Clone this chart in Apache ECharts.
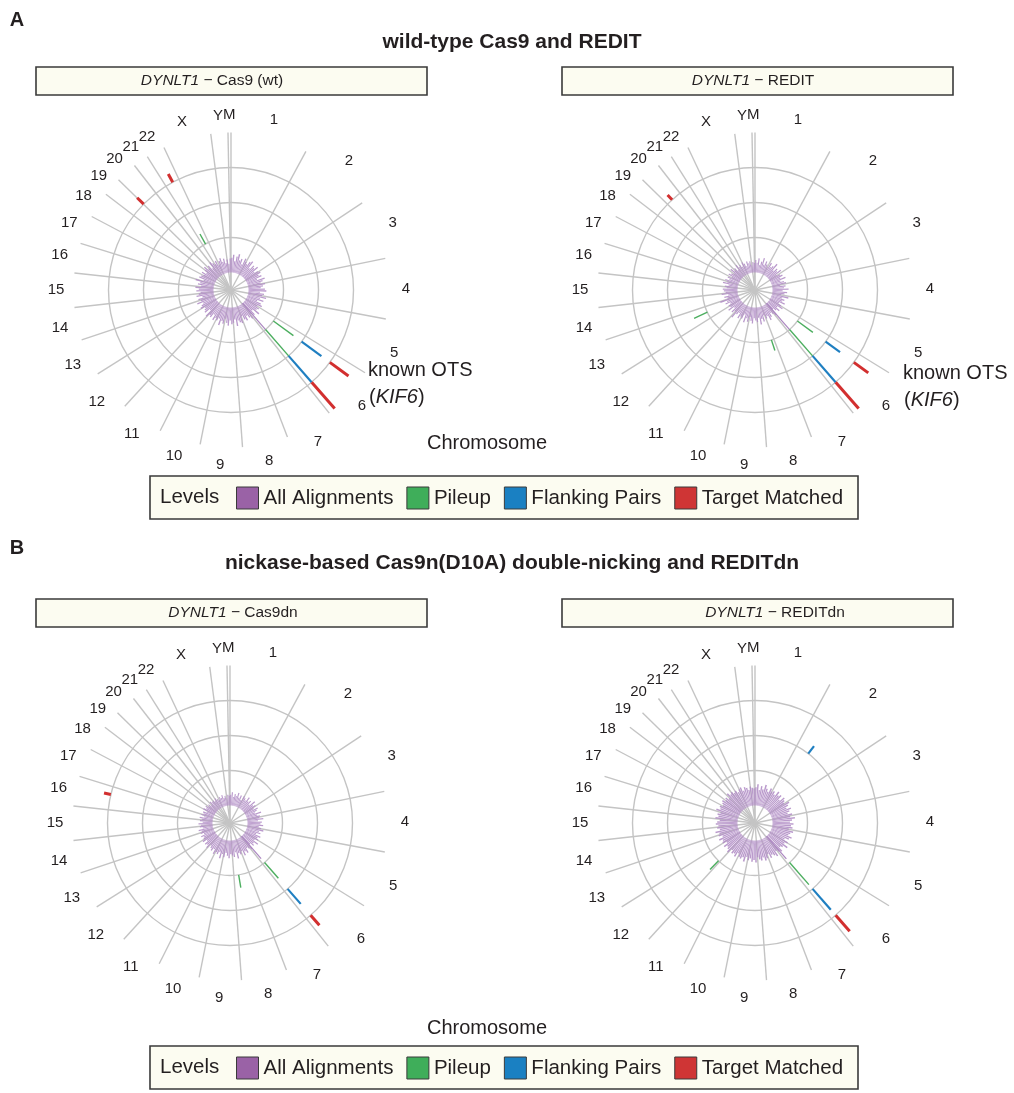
<!DOCTYPE html>
<html>
<head>
<meta charset="utf-8">
<script src="https://cdn.jsdelivr.net/npm/echarts/dist/echarts.min.js"></script>
<style>
  html, body { margin: 0; padding: 0; background: #ffffff; }
  #chart { width: 1014px; height: 1093px; }
</style>
</head>
<body>
<div id="chart"></div>
<script>
// ---- genome layout (Mb along the circle, clockwise from the top) ----
const chromNames = ['1','2','3','4','5','6','7','8','9','10','11','12','13','14','15','16','17','18','19','20','21','22','X','Y','M'];
const chromLengths = [243.6, 240.2, 188.7, 190.4, 181.0, 169.0, 151.0, 144.1, 133.0, 132.1, 134.7, 132.1,
                      117.5, 103.8, 108.1, 94.4, 90.9, 82.3, 60.0, 66.9, 48.9, 59.2, 152.7, 54.0, 9.4];

const levelNames = ['All Alignments', 'Pileup', 'Flanking Pairs', 'Target Matched'];
const geneName = 'DYNLT1';
const panelNames = ['Cas9 (wt)', 'REDIT', 'Cas9dn', 'REDITdn'];
const headings = ['wild-type Cas9 and REDIT', 'nickase-based Cas9n(D10A) double-nicking and REDITdn'];
const axisTitle = 'Chromosome';
const otsNote = ['known OTS', 'KIF6'];

// ---- all-alignment density, equal genome bins (fraction of the inner ring) ----
const alignCas9wt = [
  0.42,0.51,0.33,0.47,0.55,0.38,0.44,0.29,0.49,0.41,
  0.36,0.47,0.52,0.31,0.45,0.40,0.50,0.34,0.43,0.48,
  0.39,0.46,0.30,0.52,0.44,0.37,0.49,0.42,0.35,0.47,
  0.51,0.33,0.45,0.40,0.53,0.36,0.48,0.31,0.44,0.50,
  0.38,0.46,0.42,0.55,0.34,0.47,0.40,0.52,0.45,0.36,
  0.49,0.43,0.31,0.50,0.46,0.39,0.54,0.35,0.44,0.48,
  0.37,0.52,0.45,0.33,0.49,0.42,0.56,0.38,0.46,0.41,
  0.50,0.35,0.47,0.43,0.53,0.32,0.48,0.44,0.39,0.51,
  0.45,0.38,0.54,0.41,0.47,0.34,0.50,0.43,0.37,0.49,
  0.42,0.52,0.36,0.46,0.40,0.55,0.33,0.48,0.44,0.39,
  0.47,0.35,0.43,0.50,0.38,0.45,0.31,0.49,0.42,0.36,
  0.44,0.30,0.40,0.46,0.34,0.42,0.28,0.38,0.25,0.40
];
const alignREDIT = [
  0.36,0.28,0.41,0.22,0.33,0.45,0.27,0.38,0.31,0.24,
  0.40,0.29,0.35,0.47,0.26,0.37,0.32,0.43,0.25,0.34,
  0.39,0.30,0.44,0.27,0.36,0.41,0.23,0.38,0.33,0.46,
  0.29,0.42,0.35,0.26,0.48,0.31,0.39,0.34,0.44,0.28,
  0.37,0.45,0.30,0.41,0.33,0.25,0.43,0.36,0.29,0.40,
  0.47,0.32,0.38,0.27,0.44,0.35,0.50,0.30,0.42,0.37,
  0.31,0.46,0.39,0.28,0.43,0.34,0.48,0.26,0.40,0.36,
  0.44,0.29,0.37,0.52,0.33,0.41,0.27,0.45,0.35,0.38,
  0.30,0.43,0.36,0.55,0.32,0.40,0.28,0.46,0.34,0.39,
  0.42,0.31,0.37,0.27,0.44,0.33,0.40,0.29,0.36,0.25,
  0.38,0.32,0.27,0.41,0.30,0.35,0.24,0.39,0.29,0.34,
  0.26,0.37,0.31,0.22,0.35,0.28,0.33,0.21,0.30,0.27
];
const alignCas9dn = [
  0.31,0.38,0.25,0.34,0.29,0.40,0.27,0.35,0.22,0.37,
  0.33,0.28,0.41,0.30,0.36,0.26,0.43,0.32,0.38,0.29,
  0.40,0.34,0.27,0.44,0.31,0.38,0.35,0.46,0.30,0.41,
  0.37,0.45,0.33,0.40,0.48,0.36,0.42,0.31,0.46,0.39,
  0.44,0.35,0.50,0.38,0.43,0.33,0.47,0.41,0.36,0.49,
  0.42,0.52,0.37,0.45,0.40,0.54,0.35,0.48,0.43,0.39,
  0.51,0.44,0.36,0.49,0.41,0.55,0.38,0.46,0.42,0.50,
  0.37,0.45,0.40,0.34,0.47,0.39,0.43,0.32,0.44,0.38,
  0.35,0.41,0.30,0.39,0.34,0.42,0.29,0.37,0.33,0.40,
  0.28,0.36,0.31,0.38,0.26,0.35,0.30,0.33,0.24,0.36,
  0.29,0.34,0.27,0.31,0.23,0.33,0.28,0.30,0.25,0.32,
  0.27,0.22,0.30,0.26,0.33,0.24,0.29,0.21,0.31,0.28
];
const alignREDITdn = [
  0.52,0.61,0.45,0.57,0.49,0.63,0.54,0.47,0.59,0.51,
  0.56,0.48,0.62,0.53,0.58,0.46,0.60,0.55,0.50,0.64,
  0.57,0.49,0.61,0.54,0.47,0.59,0.52,0.65,0.56,0.50,
  0.60,0.53,0.58,0.48,0.62,0.55,0.51,0.63,0.57,0.46,
  0.59,0.52,0.66,0.54,0.49,0.61,0.56,0.50,0.64,0.58,
  0.53,0.60,0.47,0.57,0.62,0.51,0.59,0.55,0.48,0.63,
  0.56,0.61,0.52,0.58,0.50,0.65,0.54,0.60,0.57,0.49,
  0.62,0.55,0.59,0.51,0.64,0.57,0.53,0.61,0.48,0.58,
  0.54,0.63,0.50,0.60,0.56,0.66,0.52,0.59,0.55,0.62,
  0.58,0.51,0.64,0.56,0.60,0.53,0.67,0.57,0.61,0.54,
  0.59,0.63,0.55,0.60,0.52,0.65,0.57,0.61,0.54,0.58,
  0.50,0.56,0.60,0.48,0.57,0.53,0.46,0.55,0.51,0.49
];

// ---- sites: [chromosome, position (Mb), level height (fraction of ring)] ----
const peakCas9wt   = [['6', 147.0, 1.00]];
const pileupCas9wt = [['6', 38.6, 0.71], ['6', 147.0, 1.00], ['22', 26.6, 0.33]];
const flankCas9wt  = [['6', 38.6, 0.70], ['6', 147.0, 1.00]];
const targetCas9wt = [['6', 38.6, 0.66], ['6', 147.0, 1.00], ['22', 31.7, 0.27], ['20', 1.0, 0.26]];

const peakREDIT   = [['6', 147.0, 1.00]];
const pileupREDIT = [['6', 38.6, 0.55], ['6', 147.0, 1.00], ['8', 24.0, 0.32], ['13', 61.8, 0.42]];
const flankREDIT  = [['6', 38.6, 0.51], ['6', 147.0, 1.00]];
const targetREDIT = [['6', 38.6, 0.51], ['6', 147.0, 1.00], ['20', 25.7, 0.19]];

const peakCas9dn   = [['6', 147.0, 0.85]];
const pileupCas9dn = [['6', 147.0, 0.60], ['8', 98.6, 0.37]];
const flankCas9dn  = [['6', 147.0, 0.57]];
const targetCas9dn = [['6', 147.0, 0.38], ['16', 61.8, 0.20]];

const peakREDITdn   = [['6', 147.0, 0.86]];
const pileupREDITdn = [['6', 147.0, 0.84], ['12', 13.7, 0.35]];
const flankREDITdn  = [['6', 147.0, 0.79], ['2', 78.1, 0.27]];
const targetREDITdn = [['6', 147.0, 0.61]];

// ---- derived genome coordinates ----
const chromStart = [];
let acc = 0;
chromLengths.forEach(function (len) { chromStart.push(acc); acc += len; });
const GENOME = acc;
function gpos(chr, mb) { return chromStart[chromNames.indexOf(chr)] + mb; }

// ---- drawing constants ----
const FONT = '"Liberation Sans", Arial, Helvetica, sans-serif';
const TEXT = '#231f20';
const GRID = '#c4c4c4';
const RING_BASE = [0.5, 1.5, 2.5, 3.5];     // radial start of each level ring
const RING_CIRCLES = [1.5, 2.5, 3.5];
const SPOKE_OUTER = 4.5;
const LABEL_R = 5.0;
const KEY_COLORS = ['#9a62a6', '#3fae5a', '#1a80c2', '#cf3535'];
const MARK_COLORS = ['#ab86c0', '#4cae5f', '#1f7fc1', '#d22f2f'];
const MARK_WIDTHS = [1.2, 1.4, 2.2, 3.0];

const panelCenters = [[231, 290], [755, 290], [230, 823], [755, 823]];
const panelAlign = [alignCas9wt, alignREDIT, alignCas9dn, alignREDITdn];
const panelMarks = [
  [peakCas9wt, pileupCas9wt, flankCas9wt, targetCas9wt],
  [peakREDIT, pileupREDIT, flankREDIT, targetREDIT],
  [peakCas9dn, pileupCas9dn, flankCas9dn, targetCas9dn],
  [peakREDITdn, pileupREDITdn, flankREDITdn, targetREDITdn]
];

function radiusPx(api, r) {
  const c = api.coord([0, 0]);
  const p = api.coord([r, 0]);
  return Math.hypot(p[0] - c[0], p[1] - c[1]);
}
function angleAt(api, c, pos) {
  const p = api.coord([1, pos]);
  return Math.atan2(p[1] - c[1], p[0] - c[0]);
}

const polar = [], angleAxis = [], radiusAxis = [], series = [];

panelCenters.forEach(function (ctr, i) {
  polar.push({ center: ctr, radius: 157.5 });
  angleAxis.push({
    polarIndex: i, type: 'value', min: 0, max: GENOME, startAngle: 90, clockwise: true,
    axisLine: { show: false }, axisTick: { show: false }, axisLabel: { show: false }, splitLine: { show: false }
  });
  radiusAxis.push({
    polarIndex: i, type: 'value', min: 0, max: SPOKE_OUTER,
    axisLine: { show: false }, axisTick: { show: false }, axisLabel: { show: false }, splitLine: { show: false }
  });

  // concentric level circles
  series.push({
    type: 'custom', coordinateSystem: 'polar', polarIndex: i, silent: true, z: 1,
    data: RING_CIRCLES.map(function (r) { return [r, 0]; }),
    renderItem: function (params, api) {
      const c = api.coord([0, 0]);
      return { type: 'circle', shape: { cx: c[0], cy: c[1], r: radiusPx(api, api.value(0)) },
               style: { fill: 'none', stroke: GRID, lineWidth: 1.4 } };
    }
  });

  // chromosome boundary spokes
  series.push({
    type: 'custom', coordinateSystem: 'polar', polarIndex: i, silent: true, z: 1,
    data: chromStart.map(function (s) { return [SPOKE_OUTER, s]; }),
    renderItem: function (params, api) {
      const pos = api.value(1);
      const a = api.coord([0, pos]);
      const b = api.coord([api.value(0), pos]);
      return { type: 'line', shape: { x1: a[0], y1: a[1], x2: b[0], y2: b[1] },
               style: { stroke: GRID, lineWidth: 1.4 } };
    }
  });

  // chromosome labels
  series.push({
    type: 'custom', coordinateSystem: 'polar', polarIndex: i, silent: true, z: 3,
    data: chromStart.map(function (s, k) { return [LABEL_R, s + chromLengths[k] / 2]; }),
    renderItem: function (params, api) {
      const p = api.coord([api.value(0), api.value(1)]);
      return { type: 'text', x: p[0], y: p[1],
               style: { text: chromNames[params.dataIndex], fill: TEXT, fontSize: 15, fontFamily: FONT,
                        align: 'center', verticalAlign: 'middle', textAlign: 'center', textVerticalAlign: 'middle' } };
    }
  });

  // all-alignment density bins
  const bins = panelAlign[i];
  const binW = GENOME / bins.length;
  series.push({
    name: levelNames[0], type: 'custom', coordinateSystem: 'polar', polarIndex: i, silent: true, z: 2,
    itemStyle: { color: KEY_COLORS[0] },
    data: bins.map(function (v, k) { return [v, k * binW]; }),
    renderItem: function (params, api) {
      const v = api.value(0), s = api.value(1);
      const c = api.coord([0, 0]);
      let a0 = angleAt(api, c, s + binW * 0.12);
      let a1 = angleAt(api, c, s + binW * 0.88);
      if (a1 < a0) a1 += Math.PI * 2;
      return { type: 'sector',
               shape: { cx: c[0], cy: c[1], r0: radiusPx(api, RING_BASE[0]), r: radiusPx(api, RING_BASE[0] + v),
                        startAngle: a0, endAngle: a1, clockwise: true },
               style: { fill: '#b38fc6', opacity: 0.9 } };
    }
  });

  // radial marks for each level
  panelMarks[i].forEach(function (list, lvl) {
    series.push({
      name: levelNames[lvl], type: 'custom', coordinateSystem: 'polar', polarIndex: i, silent: true, z: 4,
      itemStyle: { color: KEY_COLORS[lvl] },
      data: list.map(function (m) { return [m[2], gpos(m[0], m[1])]; }),
      renderItem: function (params, api) {
        const v = api.value(0), pos = api.value(1);
        const a = api.coord([RING_BASE[lvl], pos]);
        const b = api.coord([RING_BASE[lvl] + v, pos]);
        return { type: 'line', shape: { x1: a[0], y1: a[1], x2: b[0], y2: b[1] },
                 style: { stroke: MARK_COLORS[lvl], lineWidth: MARK_WIDTHS[lvl], lineCap: 'butt' } };
      }
    });
  });
});

// ---- page furniture ----
const CREAM = '#fcfcf1';
function txt(x, y, text, size, opts) {
  opts = opts || {};
  return {
    type: 'text', x: x, y: y, silent: true, z: 10,
    style: Object.assign({
      text: text, fill: TEXT, fontSize: size, fontFamily: FONT,
      align: opts.align || 'center', verticalAlign: 'middle',
      textAlign: opts.align || 'center', textVerticalAlign: 'middle'
    }, opts.style || {})
  };
}
function richTxt(x, y, text, size, align) {
  return {
    type: 'text', x: x, y: y, silent: true, z: 10,
    style: {
      text: text, fill: TEXT, fontSize: size, fontFamily: FONT,
      align: align, verticalAlign: 'middle', textAlign: align, textVerticalAlign: 'middle',
      rich: {
        i: { fontStyle: 'italic', fontSize: size, fontFamily: FONT, fill: TEXT },
        n: { fontSize: size, fontFamily: FONT, fill: TEXT }
      }
    }
  };
}
function box(x, y, w, h) {
  return { type: 'rect', silent: true, z: 0, shape: { x: x, y: y, width: w, height: h },
           style: { fill: CREAM, stroke: '#3a3a3a', lineWidth: 1.6 } };
}

const graphics = [];
graphics.push(txt(17, 20, 'A', 20, { style: { fontWeight: 'bold' } }));
graphics.push(txt(17, 548, 'B', 20, { style: { fontWeight: 'bold' } }));
graphics.push(txt(512, 42, headings[0], 21, { style: { fontWeight: 'bold' } }));
graphics.push(txt(512, 563, headings[1], 21, { style: { fontWeight: 'bold' } }));

// strip boxes: [left, top, text centre x]
const stripBoxes = [[36, 67, 212], [562, 67, 753], [36, 599, 233], [562, 599, 775]];
stripBoxes.forEach(function (b, i) {
  graphics.push(box(b[0], b[1], 391, 28));
  graphics.push(richTxt(b[2], b[1] + 14, '{i|' + geneName + '}{n| − ' + panelNames[i] + '}', 15.5, 'center'));
});

// known off-target annotation (top row)
[[368, 370], [903, 373]].forEach(function (p) {
  graphics.push(txt(p[0], p[1], otsNote[0], 20, { align: 'left' }));
  graphics.push(richTxt(p[0] + 1, p[1] + 27, '{n|(}{i|' + otsNote[1] + '}{n|)}', 20, 'left'));
});

graphics.push(txt(487, 443, axisTitle, 20));
graphics.push(txt(487, 1028, axisTitle, 20));

// legend frames
[476, 1046].forEach(function (y) {
  graphics.push(box(150, y, 708, 43));
  graphics.push(txt(160, y + 21.5, 'Levels', 20.5, { align: 'left' }));
});

const legend = [486.5, 1056.5].map(function (top) {
  return {
    data: levelNames.map(function (n) { return { name: n, icon: 'rect' }; }),
    left: 236, top: top, orient: 'horizontal', padding: 0,
    itemWidth: 22, itemHeight: 22, itemGap: 13, selectedMode: false,
    itemStyle: { borderColor: '#3a3a3a', borderWidth: 1 },
    textStyle: { fontSize: 20.5, color: TEXT, fontFamily: FONT }
  };
});

const chart = echarts.init(document.getElementById('chart'), null, { renderer: 'canvas' });
chart.setOption({
  animation: false,
  backgroundColor: '#ffffff',
  polar: polar,
  angleAxis: angleAxis,
  radiusAxis: radiusAxis,
  legend: legend,
  graphic: { elements: graphics },
  series: series
});
</script>
</body>
</html>
